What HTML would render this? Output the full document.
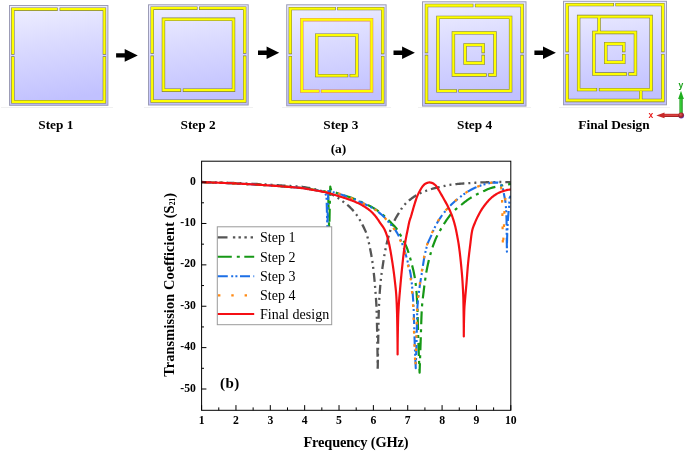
<!DOCTYPE html>
<html lang="en">
<head>
<meta charset="utf-8">
<title>Design steps and transmission coefficient</title>
<style>
html,body{margin:0;padding:0;background:#fff;}
body{width:685px;height:452px;overflow:hidden;font-family:"Liberation Serif",serif;}
svg{display:block;}
</style>
</head>
<body>
<svg width="685" height="452" viewBox="0 0 685 452">
<defs>
<linearGradient id="sq" x1="0" y1="0" x2="0.15" y2="1"><stop offset="0" stop-color="#f0f0ff"/><stop offset="0.42" stop-color="#dbdbff"/><stop offset="1" stop-color="#c1c1ff"/></linearGradient>
<radialGradient id="ball" cx="0.4" cy="0.35" r="0.7"><stop offset="0" stop-color="#e05a5a"/><stop offset="0.6" stop-color="#a02020"/><stop offset="1" stop-color="#5a3cc8"/></radialGradient>
<linearGradient id="gx" x1="0" y1="0" x2="1" y2="0"><stop offset="0" stop-color="#1e9a1e"/><stop offset="0.45" stop-color="#3ddc3d"/><stop offset="1" stop-color="#128012"/></linearGradient>
<linearGradient id="rx" x1="0" y1="0" x2="0" y2="1"><stop offset="0" stop-color="#b02020"/><stop offset="0.45" stop-color="#e84a4a"/><stop offset="1" stop-color="#8a1515"/></linearGradient>
<clipPath id="plot"><rect x="201.6" y="161.2" width="309.2" height="249.1"/></clipPath>
</defs>
<rect width="685" height="452" fill="#ffffff"/>
<rect x="1" y="107" width="112" height="1" fill="#f0f0f0"/>
<rect x="144" y="107" width="109" height="1" fill="#f0f0f0"/>
<rect x="282" y="107" width="109" height="1" fill="#f0f0f0"/>
<rect x="418" y="107" width="113" height="1" fill="#f0f0f0"/>
<rect x="559" y="107" width="111" height="1" fill="#f0f0f0"/>
<rect x="9.5" y="5.5" width="98.4" height="99.8" fill="url(#sq)" stroke="#9c9cb6" stroke-width="1"/>
<path d="M12.85 54.7 L12.85 9.2 L57.7 9.2 M59.6 9.2 L104.4 9.2 L104.4 54.7 M104.4 56.3 L104.4 101.75 L12.85 101.75 L12.85 56.3" fill="none" stroke="#6c6c26" stroke-width="3.4" stroke-linejoin="miter" stroke-linecap="butt" opacity="0.85"/>
<path d="M12.85 54.1 L12.85 9.2 L57.1 9.2 M60.2 9.2 L104.4 9.2 L104.4 54.1 M104.4 56.9 L104.4 101.75 L12.85 101.75 L12.85 56.9" fill="none" stroke="#ffff00" stroke-width="2.3" stroke-linejoin="miter" stroke-linecap="butt"/>
<rect x="148.5" y="4.8" width="99.7" height="100.2" fill="url(#sq)" stroke="#9c9cb6" stroke-width="1"/>
<path d="M152.2 53.7 L152.2 8.2 L197.55 8.2 M199 8.2 L244.7 8.2 L244.7 53.7 M244.7 55.6 L244.7 101.15 L152.2 101.15 L152.2 55.6 M181.1 90.2 L163.45 90.2 L163.45 19.3 L233.5 19.3 L233.5 90.2 L182.8 90.2" fill="none" stroke="#6c6c26" stroke-width="3.4" stroke-linejoin="miter" stroke-linecap="butt" opacity="0.85"/>
<path d="M152.2 53.1 L152.2 8.2 L196.95 8.2 M199.6 8.2 L244.7 8.2 L244.7 53.1 M244.7 56.2 L244.7 101.15 L152.2 101.15 L152.2 56.2 M180.5 90.2 L163.45 90.2 L163.45 19.3 L233.5 19.3 L233.5 90.2 L183.4 90.2" fill="none" stroke="#ffff00" stroke-width="2.3" stroke-linejoin="miter" stroke-linecap="butt"/>
<rect x="286.7" y="4.8" width="99.4" height="101" fill="url(#sq)" stroke="#9c9cb6" stroke-width="1"/>
<path d="M290.3 54.2 L290.3 8.6 L335.8 8.6 M337.2 8.6 L382.7 8.6 L382.7 54.2 M382.7 56 L382.7 102 L290.3 102 L290.3 56" fill="none" stroke="#6c6c26" stroke-width="3.4" stroke-linejoin="miter" stroke-linecap="butt" opacity="0.85"/>
<path d="M290.3 53.6 L290.3 8.6 L335.2 8.6 M337.8 8.6 L382.7 8.6 L382.7 53.6 M382.7 56.6 L382.7 102 L290.3 102 L290.3 56.6" fill="none" stroke="#ffff00" stroke-width="2.3" stroke-linejoin="miter" stroke-linecap="butt"/>
<path d="M319.5 91.1 L301.8 91.1 L301.8 19.7 L371.55 19.7 L371.55 91.1 L320.9 91.1" fill="none" stroke="#e27c40" stroke-width="3.4" stroke-linejoin="miter" stroke-linecap="butt" opacity="0.85"/>
<path d="M318.9 91.1 L301.8 91.1 L301.8 19.7 L371.55 19.7 L371.55 91.1 L321.5 91.1" fill="none" stroke="#ffff00" stroke-width="2.3" stroke-linejoin="miter" stroke-linecap="butt"/>
<path d="M348.2 75.65 L316.7 75.65 L316.7 35.1 L356.85 35.1 L356.85 75.65 L349.6 75.65" fill="none" stroke="#6c6c26" stroke-width="3.4" stroke-linejoin="miter" stroke-linecap="butt" opacity="0.85"/>
<path d="M347.6 75.65 L316.7 75.65 L316.7 35.1 L356.85 35.1 L356.85 75.65 L350.2 75.65" fill="none" stroke="#ffff00" stroke-width="2.3" stroke-linejoin="miter" stroke-linecap="butt"/>
<rect x="422.5" y="1.8" width="103.5" height="104.3" fill="url(#sq)" stroke="#9c9cb6" stroke-width="1"/>
<path d="M426.5 53.2 L426.5 5.5 L473.4 5.5 M474.9 5.5 L522.1 5.5 L522.1 53.2 M522.1 54.8 L522.1 102.2 L426.5 102.2 L426.5 54.8 M457 90.9 L437.95 90.9 L437.95 17.4 L510.6 17.4 L510.6 90.9 L458.4 90.9 M486.7 74.95 L453.4 74.95 L453.4 32.9 L494.95 32.9 L494.95 74.95 L488.2 74.95 M483.2 54.8 L483.2 63 L465.1 63 L465.1 44.9 L483.2 44.9 L483.2 53.2" fill="none" stroke="#6c6c26" stroke-width="3.4" stroke-linejoin="miter" stroke-linecap="butt" opacity="0.85"/>
<path d="M426.5 52.6 L426.5 5.5 L472.8 5.5 M475.5 5.5 L522.1 5.5 L522.1 52.6 M522.1 55.4 L522.1 102.2 L426.5 102.2 L426.5 55.4 M456.4 90.9 L437.95 90.9 L437.95 17.4 L510.6 17.4 L510.6 90.9 L459 90.9 M486.1 74.95 L453.4 74.95 L453.4 32.9 L494.95 32.9 L494.95 74.95 L488.8 74.95 M483.2 55.4 L483.2 63 L465.1 63 L465.1 44.9 L483.2 44.9 L483.2 52.6" fill="none" stroke="#ffff00" stroke-width="2.3" stroke-linejoin="miter" stroke-linecap="butt"/>
<rect x="563.5" y="1.3" width="103" height="103.5" fill="url(#sq)" stroke="#9c9cb6" stroke-width="1"/>
<path d="M567.15 52.2 L567.15 4.65 L614 4.65 M615.4 4.65 L662.85 4.65 L662.85 52.2 M662.85 53.9 L662.85 100.45 L567.15 100.45 L567.15 53.9 M597.1 89.65 L578.65 89.65 L578.65 16.55 L651.15 16.55 L651.15 89.65 L598.9 89.65 M626.9 74.05 L593.9 74.05 L593.9 32.45 L635.45 32.45 L635.45 74.05 L628.4 74.05 M623.75 53.9 L623.75 62.25 L605.75 62.25 L605.75 43.75 L623.75 43.75 L623.75 52.2 M599.05 17.8 L599.05 31.2 M640.75 90.9 L640.75 99.2" fill="none" stroke="#6c6c26" stroke-width="3.4" stroke-linejoin="miter" stroke-linecap="butt" opacity="0.85"/>
<path d="M567.15 51.6 L567.15 4.65 L613.4 4.65 M616 4.65 L662.85 4.65 L662.85 51.6 M662.85 54.5 L662.85 100.45 L567.15 100.45 L567.15 54.5 M596.5 89.65 L578.65 89.65 L578.65 16.55 L651.15 16.55 L651.15 89.65 L599.5 89.65 M626.3 74.05 L593.9 74.05 L593.9 32.45 L635.45 32.45 L635.45 74.05 L629 74.05 M623.75 54.5 L623.75 62.25 L605.75 62.25 L605.75 43.75 L623.75 43.75 L623.75 51.6 M599.05 17.8 L599.05 31.2 M640.75 90.9 L640.75 99.2" fill="none" stroke="#ffff00" stroke-width="2.3" stroke-linejoin="miter" stroke-linecap="butt"/>
<path d="M116.1 53.2 H124.7 V49.1 L137.8 55.4 L124.7 61.7 V57.6 H116.1 Z" fill="#000"/>
<path d="M258 50.6 H266.6 V46.5 L279.2 52.8 L266.6 59.1 V55 H258 Z" fill="#000"/>
<path d="M393.5 50.6 H402.1 V46.5 L414.9 52.8 L402.1 59.1 V55 H393.5 Z" fill="#000"/>
<path d="M534.4 50.6 H543 V46.5 L555.9 52.8 L543 59.1 V55 H534.4 Z" fill="#000"/>
<text x="55.8" y="128.6" font-family='"Liberation Serif", serif' font-size="13.3" font-weight="bold" text-anchor="middle" fill="#000" >Step 1</text>
<text x="198.1" y="128.6" font-family='"Liberation Serif", serif' font-size="13.3" font-weight="bold" text-anchor="middle" fill="#000" >Step 2</text>
<text x="340.8" y="128.6" font-family='"Liberation Serif", serif' font-size="13.3" font-weight="bold" text-anchor="middle" fill="#000" >Step 3</text>
<text x="474.6" y="128.6" font-family='"Liberation Serif", serif' font-size="13.3" font-weight="bold" text-anchor="middle" fill="#000" >Step 4</text>
<text x="614" y="128.6" font-family='"Liberation Serif", serif' font-size="13.3" font-weight="bold" text-anchor="middle" fill="#000" >Final Design</text>
<text x="338.5" y="152.8" font-family='"Liberation Serif", serif' font-size="13.5" font-weight="bold" text-anchor="middle" fill="#000" >(a)</text>
<rect x="679.4" y="98.5" width="3.3" height="17" fill="url(#gx)"/>
<path d="M678.1 99 L681 90.8 L683.9 99 Z" fill="#1fae1f"/>
<rect x="664" y="113.8" width="17" height="3.2" fill="url(#rx)"/>
<path d="M664.5 112.5 L656.3 115.4 L664.5 118.3 Z" fill="#c82828"/>
<circle cx="681.2" cy="115.5" r="2.9" fill="url(#ball)"/>
<text x="680.8" y="87.8" font-family='"Liberation Sans", sans-serif' font-size="8.6" font-weight="bold" text-anchor="middle" fill="#18a018" >y</text>
<text x="650.8" y="117.7" font-family='"Liberation Sans", sans-serif' font-size="8.5" font-weight="bold" text-anchor="middle" fill="#e81818" >x</text>
<g clip-path="url(#plot)" fill="none" stroke-linejoin="round">
<path d="M201.6 182 L202.71 182.02 L203.82 182.05 L204.93 182.07 L206.04 182.1 L207.15 182.13 L208.26 182.15 L209.37 182.18 L210.48 182.21 L211.59 182.24 L212.7 182.27 L213.81 182.3 L214.92 182.34 L216.02 182.37 L217.13 182.4 L218.24 182.44 L219.35 182.47 L220.46 182.51 L221.57 182.55 L222.68 182.58 L223.79 182.62 L224.9 182.66 L226.01 182.7 L227.12 182.74 L228.23 182.78 L229.33 182.82 L230.44 182.86 L231.55 182.9 L232.66 182.95 L233.77 182.99 L234.88 183.03 L235.99 183.08 L237.1 183.12 L238.21 183.17 L239.31 183.21 L240.42 183.26 L241.53 183.3 L242.64 183.35 L243.75 183.4 L244.86 183.44 L245.97 183.49 L247.08 183.54 L248.18 183.59 L249.29 183.64 L250.4 183.68 L251.51 183.73 L252.62 183.78 L253.73 183.83 L254.83 183.88 L255.94 183.94 L257.05 183.99 L258.16 184.05 L259.27 184.11 L260.37 184.17 L261.48 184.23 L262.59 184.29 L263.7 184.36 L264.81 184.42 L265.91 184.49 L267.02 184.55 L268.13 184.62 L269.24 184.69 L270.35 184.76 L271.45 184.83 L272.56 184.9 L273.67 184.97 L274.78 185.04 L275.88 185.11 L276.99 185.18 L278.1 185.25 L279.21 185.32 L280.31 185.39 L281.42 185.46 L282.53 185.53 L283.64 185.6 L284.74 185.67 L285.85 185.74 L286.96 185.81 L288.07 185.87 L289.18 185.94 L290.28 186 L291.39 186.06 L292.5 186.12 L293.61 186.17 L294.72 186.23 L295.83 186.3 L296.94 186.37 L298.05 186.44 L299.15 186.53 L300.25 186.62 L301.35 186.74 L302.45 186.87 L303.55 187.02 L304.65 187.19 L305.74 187.38 L306.84 187.57 L307.93 187.78 L309.02 188 L310.11 188.23 L311.2 188.46 L312.29 188.7 L313.37 188.94 L314.45 189.18 L315.53 189.42 L316.61 189.67 L317.69 189.93 L318.77 190.2 L319.85 190.48 L320.92 190.77 L322 191.08 L323.07 191.39 L324.13 191.71 L325.19 192.05 L326.24 192.39 L327.29 192.75 L328.33 193.12 L329.36 193.51 L330.4 193.92 L331.43 194.36 L332.44 194.81 L333.45 195.29 L334.44 195.79 L335.41 196.31 L336.37 196.85 L337.3 197.44 L338.22 198.06 L339.14 198.7 L340.04 199.36 L340.93 200.03 L341.82 200.69 L342.71 201.36 L343.61 202.02 L344.5 202.69 L345.39 203.36 L346.27 204.05 L347.14 204.74 L347.99 205.45 L348.82 206.18 L349.63 206.93 L350.42 207.69 L351.2 208.48 L351.97 209.29 L352.73 210.11 L353.47 210.95 L354.2 211.8 L354.9 212.66 L355.59 213.53 L356.25 214.42 L356.89 215.31 L357.51 216.22 L358.12 217.14 L358.71 218.08 L359.28 219.03 L359.85 219.99 L360.4 220.97 L360.94 221.94 L361.47 222.93 L361.98 223.91 L362.49 224.9 L363 225.89 L363.5 226.88 L364 227.87 L364.49 228.88 L364.96 229.89 L365.41 230.91 L365.83 231.93 L366.22 232.97 L366.56 234.01 L366.89 235.06 L367.2 236.12 L367.5 237.18 L367.79 238.25 L368.06 239.33 L368.33 240.41 L368.58 241.5 L368.83 242.59 L369.06 243.68 L369.3 244.77 L369.52 245.86 L369.75 246.95 L369.97 248.03 L370.18 249.12 L370.4 250.21 L370.61 251.3 L370.82 252.39 L371.02 253.48 L371.22 254.57 L371.41 255.67 L371.6 256.76 L371.79 257.86 L371.97 258.95 L372.14 260.05 L372.31 261.15 L372.47 262.25 L372.63 263.35 L372.78 264.44 L372.92 265.54 L373.06 266.64 L373.19 267.74 L373.32 268.84 L373.45 269.95 L373.57 271.05 L373.7 272.15 L373.81 273.25 L373.93 274.36 L374.04 275.46 L374.15 276.57 L374.26 277.67 L374.37 278.78 L374.47 279.88 L374.57 280.99 L374.67 282.1 L374.77 283.2 L374.86 284.31 L374.96 285.42 L375.05 286.52 L375.14 287.63 L375.23 288.73 L375.31 289.84 L375.4 290.95 L375.49 292.05 L375.58 293.16 L375.66 294.27 L375.75 295.37 L375.83 296.48 L375.91 297.59 L375.99 298.69 L376.07 299.8 L376.14 300.91 L376.21 302.02 L376.27 303.12 L376.33 304.23 L376.39 305.34 L376.44 306.45 L376.49 307.56 L376.53 308.67 L376.57 309.77 L376.61 310.88 L376.65 311.99 L376.68 313.1 L376.72 314.21 L376.75 315.32 L376.78 316.43 L376.82 317.54 L376.85 318.65 L376.88 319.76 L376.91 320.86 L376.93 321.97 L376.96 323.08 L376.99 324.19 L377.01 325.3 L377.04 326.41 L377.06 327.52 L377.09 328.63 L377.11 329.74 L377.13 330.85 L377.15 331.96 L377.18 333.07 L377.2 334.18 L377.22 335.29 L377.24 336.4 L377.26 337.51 L377.28 338.62 L377.3 339.73 L377.31 340.84 L377.33 341.95 L377.35 343.06 L377.37 344.17 L377.39 345.28 L377.41 346.39 L377.42 347.5 L377.44 348.61 L377.46 349.72 L377.47 350.83 L377.49 351.94 L377.51 353.04 L377.52 354.15 L377.54 355.26 L377.55 356.37 L377.57 357.48 L377.58 358.59 L377.59 359.7 L377.61 360.81 L377.62 361.92 L377.63 363.03 L377.64 364.14 L377.65 365.25 L377.66 366.36 L377.67 367.47 L377.68 368.58 L377.69 369.69 L377.7 370.8 L377.72 369.69 L377.73 368.59 L377.75 367.48 L377.76 366.37 L377.78 365.26 L377.79 364.16 L377.81 363.05 L377.83 361.94 L377.84 360.84 L377.86 359.73 L377.88 358.62 L377.9 357.51 L377.91 356.41 L377.93 355.3 L377.95 354.19 L377.97 353.09 L377.99 351.98 L378.01 350.87 L378.02 349.77 L378.04 348.66 L378.06 347.55 L378.08 346.44 L378.1 345.34 L378.12 344.23 L378.14 343.12 L378.16 342.02 L378.18 340.91 L378.2 339.8 L378.22 338.7 L378.24 337.59 L378.26 336.48 L378.28 335.37 L378.3 334.27 L378.32 333.16 L378.34 332.05 L378.36 330.95 L378.38 329.84 L378.4 328.73 L378.42 327.62 L378.44 326.52 L378.46 325.41 L378.48 324.3 L378.51 323.19 L378.53 322.09 L378.55 320.98 L378.58 319.87 L378.6 318.77 L378.63 317.66 L378.65 316.55 L378.68 315.45 L378.71 314.34 L378.74 313.23 L378.77 312.13 L378.8 311.02 L378.84 309.91 L378.87 308.81 L378.91 307.7 L378.95 306.6 L378.99 305.49 L379.04 304.38 L379.09 303.28 L379.14 302.17 L379.2 301.06 L379.26 299.96 L379.32 298.85 L379.38 297.75 L379.45 296.64 L379.52 295.53 L379.6 294.43 L379.68 293.32 L379.75 292.22 L379.84 291.11 L379.92 290.01 L380.01 288.91 L380.09 287.8 L380.18 286.7 L380.28 285.6 L380.37 284.49 L380.47 283.39 L380.56 282.29 L380.67 281.19 L380.79 280.09 L380.91 278.99 L381.04 277.89 L381.18 276.79 L381.32 275.69 L381.46 274.6 L381.62 273.5 L381.77 272.4 L381.93 271.3 L382.09 270.21 L382.25 269.11 L382.41 268.01 L382.57 266.92 L382.74 265.82 L382.9 264.73 L383.06 263.63 L383.23 262.54 L383.39 261.44 L383.56 260.35 L383.74 259.25 L383.91 258.16 L384.09 257.07 L384.27 255.97 L384.46 254.88 L384.65 253.79 L384.84 252.7 L385.04 251.61 L385.24 250.52 L385.45 249.44 L385.67 248.35 L385.89 247.27 L386.12 246.19 L386.36 245.11 L386.6 244.03 L386.86 242.95 L387.12 241.87 L387.39 240.79 L387.66 239.72 L387.94 238.65 L388.23 237.58 L388.53 236.51 L388.83 235.44 L389.14 234.38 L389.45 233.32 L389.78 232.27 L390.11 231.21 L390.46 230.16 L390.83 229.11 L391.21 228.07 L391.6 227.03 L392 226 L392.42 224.98 L392.86 223.96 L393.32 222.95 L393.79 221.95 L394.28 220.95 L394.78 219.96 L395.29 218.98 L395.81 218.01 L396.36 217.05 L396.94 216.11 L397.52 215.17 L398.12 214.24 L398.73 213.3 L399.33 212.37 L399.92 211.43 L400.49 210.48 L401.04 209.51 L401.6 208.55 L402.19 207.62 L402.83 206.73 L403.52 205.88 L404.24 205.04 L405 204.23 L405.79 203.43 L406.59 202.66 L407.42 201.9 L408.25 201.17 L409.09 200.46 L409.94 199.76 L410.8 199.07 L411.69 198.39 L412.59 197.72 L413.5 197.07 L414.43 196.45 L415.36 195.85 L416.31 195.27 L417.26 194.73 L418.23 194.23 L419.2 193.74 L420.2 193.26 L421.2 192.8 L422.22 192.35 L423.25 191.91 L424.28 191.5 L425.33 191.09 L426.37 190.71 L427.42 190.34 L428.48 189.98 L429.53 189.65 L430.58 189.33 L431.64 189.02 L432.71 188.73 L433.78 188.46 L434.86 188.19 L435.94 187.93 L437.02 187.69 L438.1 187.44 L439.19 187.2 L440.27 186.96 L441.35 186.72 L442.43 186.48 L443.51 186.23 L444.59 185.99 L445.68 185.75 L446.76 185.52 L447.85 185.29 L448.94 185.09 L450.03 184.89 L451.12 184.72 L452.21 184.56 L453.3 184.43 L454.4 184.3 L455.5 184.18 L456.6 184.07 L457.7 183.97 L458.81 183.87 L459.91 183.77 L461.02 183.68 L462.12 183.59 L463.23 183.51 L464.33 183.43 L465.44 183.36 L466.54 183.28 L467.65 183.21 L468.75 183.14 L469.86 183.07 L470.96 183 L472.07 182.93 L473.17 182.87 L474.28 182.8 L475.39 182.74 L476.49 182.68 L477.6 182.62 L478.7 182.57 L479.81 182.52 L480.92 182.47 L482.02 182.42 L483.13 182.38 L484.24 182.34 L485.34 182.3 L486.45 182.27 L487.55 182.24 L488.66 182.21 L489.77 182.18 L490.88 182.15 L491.98 182.12 L493.09 182.09 L494.2 182.07 L495.3 182.04 L496.41 182.03 L497.52 182.01 L498.63 182 L499.73 182 L500.84 182 L501.95 182.01 L503.05 182.03 L504.16 182.05 L505.27 182.08 L506.37 182.12 L507.48 182.16 L508.59 182.2 L509.69 182.25 L510.8 182.3" stroke="#555555" stroke-width="2.3" stroke-dasharray="9 4 2 4 2 4"/>
<path d="M201.6 182.2 L202.71 182.23 L203.81 182.26 L204.92 182.29 L206.02 182.32 L207.13 182.35 L208.23 182.39 L209.34 182.42 L210.44 182.46 L211.55 182.49 L212.65 182.53 L213.76 182.57 L214.86 182.61 L215.97 182.65 L217.07 182.69 L218.18 182.73 L219.29 182.77 L220.39 182.81 L221.5 182.85 L222.6 182.9 L223.7 182.94 L224.81 182.99 L225.91 183.03 L227.02 183.08 L228.12 183.12 L229.23 183.17 L230.33 183.21 L231.44 183.26 L232.54 183.31 L233.65 183.36 L234.75 183.41 L235.86 183.47 L236.96 183.52 L238.07 183.58 L239.17 183.63 L240.27 183.69 L241.38 183.75 L242.48 183.81 L243.59 183.87 L244.69 183.93 L245.8 183.99 L246.9 184.05 L248 184.11 L249.11 184.18 L250.21 184.24 L251.32 184.3 L252.42 184.37 L253.52 184.43 L254.63 184.5 L255.73 184.56 L256.84 184.63 L257.94 184.7 L259.04 184.77 L260.15 184.84 L261.25 184.91 L262.35 184.98 L263.46 185.05 L264.56 185.13 L265.66 185.2 L266.77 185.28 L267.87 185.35 L268.97 185.43 L270.08 185.51 L271.18 185.58 L272.28 185.66 L273.39 185.74 L274.49 185.82 L275.59 185.9 L276.69 185.98 L277.8 186.06 L278.9 186.15 L280 186.23 L281.11 186.31 L282.21 186.4 L283.31 186.49 L284.41 186.57 L285.52 186.66 L286.62 186.75 L287.72 186.84 L288.82 186.93 L289.92 187.02 L291.03 187.1 L292.13 187.19 L293.23 187.28 L294.33 187.37 L295.44 187.47 L296.54 187.57 L297.64 187.67 L298.74 187.77 L299.84 187.88 L300.94 188 L302.04 188.12 L303.14 188.25 L304.23 188.38 L305.33 188.52 L306.43 188.66 L307.53 188.81 L308.62 188.96 L309.72 189.11 L310.81 189.27 L311.91 189.43 L313 189.59 L314.09 189.76 L315.19 189.93 L316.33 190.09 L317.54 190.23 L318.78 190.38 L320.02 190.52 L321.24 190.68 L322.41 190.86 L323.5 191.07 L324.49 191.31 L325.34 191.59 L326.04 191.92 L326.62 192.49 L327.16 193.37 L327.62 194.48 L328.01 195.71 L328.3 197 L328.33 198.09 L328.36 199.17 L328.39 200.26 L328.41 201.34 L328.44 202.43 L328.47 203.51 L328.5 204.6 L328.53 205.69 L328.56 206.77 L328.59 207.86 L328.61 208.94 L328.64 210.03 L328.67 211.11 L328.7 212.2 L328.73 213.29 L328.76 214.37 L328.79 215.46 L328.81 216.54 L328.84 217.63 L328.87 218.71 L328.9 219.8 L328.93 220.89 L328.96 221.97 L328.99 223.06 L329.01 224.14 L329.04 225.23 L329.07 226.31 L329.1 227.4 L329.13 228.49 L329.16 229.57 L329.19 230.66 L329.21 231.74 L329.24 232.83 L329.27 233.91 L329.3 235 L329.31 233.9 L329.32 232.8 L329.33 231.7 L329.34 230.6 L329.35 229.5 L329.37 228.4 L329.38 227.3 L329.4 226.2 L329.41 225.1 L329.43 224 L329.44 222.9 L329.46 221.8 L329.48 220.7 L329.5 219.6 L329.52 218.5 L329.54 217.4 L329.56 216.3 L329.58 215.2 L329.6 214.1 L329.62 213 L329.64 211.9 L329.67 210.8 L329.69 209.7 L329.71 208.6 L329.73 207.5 L329.76 206.4 L329.78 205.3 L329.81 204.2 L329.83 203.1 L329.85 202 L329.88 200.9 L329.9 199.8 L329.93 198.7 L329.96 197.6 L329.99 196.5 L330.02 195.4 L330.05 194.3 L330.09 193.2 L330.12 192.1 L330.15 191 L330.19 189.9 L330.23 188.8 L330.26 187.7 L330.3 186.6 L330.46 187.89 L330.8 189.04 L331.26 190.03 L331.79 190.79 L332.52 191.35 L333.53 191.81 L334.69 192.21 L335.83 192.6 L336.86 192.99 L337.9 193.38 L338.95 193.75 L340 194.1 L341.05 194.45 L342.11 194.79 L343.17 195.13 L344.23 195.46 L345.29 195.79 L346.35 196.12 L347.41 196.46 L348.47 196.8 L349.52 197.15 L350.56 197.51 L351.61 197.89 L352.64 198.28 L353.67 198.68 L354.69 199.1 L355.72 199.53 L356.73 199.98 L357.75 200.43 L358.76 200.89 L359.77 201.35 L360.77 201.82 L361.78 202.29 L362.78 202.77 L363.78 203.24 L364.79 203.71 L365.8 204.18 L366.81 204.65 L367.82 205.13 L368.83 205.6 L369.83 206.09 L370.83 206.59 L371.81 207.1 L372.78 207.62 L373.74 208.17 L374.68 208.73 L375.61 209.31 L376.52 209.93 L377.43 210.56 L378.32 211.22 L379.21 211.9 L380.08 212.59 L380.95 213.29 L381.81 214.01 L382.66 214.73 L383.5 215.45 L384.34 216.18 L385.17 216.91 L385.98 217.66 L386.79 218.42 L387.58 219.2 L388.37 219.98 L389.15 220.77 L389.93 221.57 L390.7 222.37 L391.47 223.17 L392.24 223.97 L393.02 224.76 L393.8 225.56 L394.57 226.37 L395.33 227.19 L396.05 228.03 L396.74 228.88 L397.39 229.77 L397.99 230.68 L398.57 231.63 L399.13 232.59 L399.66 233.57 L400.2 234.55 L400.72 235.53 L401.26 236.5 L401.79 237.48 L402.33 238.45 L402.86 239.43 L403.38 240.42 L403.9 241.4 L404.41 242.39 L404.9 243.39 L405.38 244.39 L405.84 245.4 L406.28 246.41 L406.69 247.43 L407.09 248.45 L407.47 249.49 L407.84 250.53 L408.19 251.58 L408.54 252.63 L408.88 253.69 L409.2 254.76 L409.52 255.82 L409.83 256.89 L410.14 257.97 L410.43 259.04 L410.72 260.11 L411.01 261.18 L411.29 262.25 L411.57 263.32 L411.85 264.4 L412.13 265.47 L412.4 266.55 L412.67 267.63 L412.94 268.71 L413.2 269.79 L413.45 270.87 L413.69 271.96 L413.92 273.04 L414.14 274.13 L414.35 275.22 L414.55 276.31 L414.74 277.4 L414.91 278.49 L415.07 279.58 L415.23 280.68 L415.39 281.78 L415.54 282.88 L415.68 283.98 L415.82 285.08 L415.95 286.18 L416.07 287.29 L416.19 288.39 L416.29 289.5 L416.39 290.6 L416.48 291.71 L416.57 292.81 L416.65 293.92 L416.73 295.02 L416.8 296.13 L416.87 297.23 L416.94 298.34 L417 299.45 L417.06 300.56 L417.12 301.67 L417.18 302.77 L417.23 303.88 L417.28 304.99 L417.33 306.1 L417.37 307.21 L417.42 308.31 L417.46 309.42 L417.5 310.53 L417.53 311.64 L417.57 312.75 L417.61 313.86 L417.64 314.96 L417.67 316.07 L417.7 317.18 L417.73 318.29 L417.76 319.4 L417.79 320.51 L417.82 321.62 L417.84 322.72 L417.87 323.83 L417.9 324.94 L417.92 326.05 L417.95 327.16 L417.98 328.27 L418 329.38 L418.03 330.49 L418.06 331.6 L418.09 332.7 L418.12 333.81 L418.15 334.92 L418.18 336.03 L418.21 337.14 L418.24 338.25 L418.28 339.36 L418.32 340.46 L418.35 341.57 L418.39 342.68 L418.43 343.79 L418.47 344.9 L418.51 346.01 L418.55 347.11 L418.59 348.22 L418.63 349.33 L418.67 350.44 L418.71 351.55 L418.75 352.65 L418.8 353.76 L418.84 354.87 L418.88 355.98 L418.93 357.09 L418.97 358.2 L419.02 359.3 L419.07 360.41 L419.11 361.52 L419.16 362.63 L419.21 363.74 L419.25 364.84 L419.3 365.95 L419.35 367.06 L419.4 368.17 L419.45 369.28 L419.5 370.38 L419.55 371.49 L419.6 372.6 L419.64 371.49 L419.67 370.38 L419.71 369.27 L419.74 368.17 L419.78 367.06 L419.81 365.95 L419.85 364.84 L419.89 363.73 L419.92 362.62 L419.96 361.51 L420 360.4 L420.03 359.3 L420.07 358.19 L420.11 357.08 L420.15 355.97 L420.18 354.86 L420.22 353.75 L420.26 352.64 L420.3 351.54 L420.34 350.43 L420.37 349.32 L420.41 348.21 L420.45 347.1 L420.49 345.99 L420.53 344.88 L420.57 343.77 L420.61 342.67 L420.64 341.56 L420.68 340.45 L420.72 339.34 L420.76 338.23 L420.8 337.12 L420.83 336.01 L420.87 334.9 L420.9 333.79 L420.94 332.69 L420.97 331.58 L421.01 330.47 L421.04 329.36 L421.07 328.25 L421.11 327.14 L421.14 326.03 L421.18 324.92 L421.21 323.81 L421.25 322.7 L421.29 321.59 L421.33 320.48 L421.37 319.37 L421.41 318.27 L421.45 317.16 L421.5 316.05 L421.54 314.94 L421.59 313.83 L421.64 312.73 L421.7 311.62 L421.76 310.51 L421.81 309.41 L421.88 308.3 L421.94 307.2 L422.02 306.09 L422.11 304.99 L422.21 303.88 L422.32 302.78 L422.43 301.67 L422.55 300.57 L422.68 299.47 L422.81 298.36 L422.94 297.26 L423.08 296.16 L423.21 295.06 L423.35 293.96 L423.48 292.86 L423.62 291.75 L423.75 290.65 L423.88 289.55 L424.02 288.45 L424.16 287.35 L424.29 286.25 L424.44 285.15 L424.58 284.04 L424.73 282.94 L424.87 281.84 L425.03 280.74 L425.18 279.65 L425.34 278.55 L425.5 277.45 L425.67 276.35 L425.84 275.26 L426.02 274.17 L426.2 273.07 L426.39 271.98 L426.58 270.89 L426.79 269.8 L427 268.71 L427.21 267.62 L427.44 266.53 L427.67 265.45 L427.9 264.36 L428.15 263.28 L428.4 262.19 L428.65 261.11 L428.91 260.03 L429.18 258.96 L429.45 257.88 L429.72 256.81 L430 255.74 L430.29 254.67 L430.59 253.6 L430.9 252.53 L431.21 251.47 L431.54 250.41 L431.87 249.35 L432.21 248.29 L432.56 247.23 L432.92 246.18 L433.28 245.14 L433.66 244.09 L434.04 243.06 L434.43 242.02 L434.84 240.99 L435.27 239.96 L435.7 238.94 L436.15 237.92 L436.62 236.91 L437.09 235.91 L437.59 234.92 L438.1 233.94 L438.63 232.97 L439.18 232 L439.73 231.04 L440.3 230.08 L440.87 229.13 L441.45 228.18 L442.02 227.23 L442.59 226.28 L443.17 225.33 L443.75 224.39 L444.34 223.44 L444.94 222.51 L445.54 221.58 L446.16 220.66 L446.79 219.74 L447.43 218.84 L448.07 217.94 L448.73 217.03 L449.39 216.13 L450.07 215.24 L450.76 214.37 L451.47 213.51 L452.19 212.68 L452.94 211.87 L453.71 211.1 L454.52 210.35 L455.36 209.63 L456.22 208.93 L457.09 208.24 L457.98 207.55 L458.85 206.86 L459.72 206.16 L460.58 205.46 L461.43 204.75 L462.28 204.03 L463.14 203.32 L464 202.62 L464.87 201.93 L465.75 201.26 L466.64 200.6 L467.54 199.96 L468.45 199.33 L469.37 198.71 L470.3 198.1 L471.24 197.5 L472.19 196.92 L473.14 196.35 L474.1 195.8 L475.07 195.27 L476.05 194.75 L477.03 194.24 L478.02 193.74 L479.02 193.26 L480.03 192.78 L481.03 192.31 L482.04 191.84 L483.05 191.38 L484.06 190.91 L485.07 190.44 L486.08 189.97 L487.09 189.51 L488.12 189.08 L489.15 188.67 L490.19 188.3 L491.24 187.97 L492.3 187.67 L493.37 187.39 L494.45 187.12 L495.54 186.87 L496.62 186.63 L497.71 186.39 L498.79 186.15 L499.87 185.92 L500.96 185.69 L502.05 185.48 L503.14 185.27 L504.23 185.06 L505.32 184.87 L506.41 184.68 L507.51 184.5 L508.6 184.32 L509.7 184.16 L510.8 184" stroke="#169816" stroke-width="2.2" stroke-dasharray="13 5 3 5"/>
<path d="M201.6 182.2 L202.71 182.23 L203.81 182.26 L204.92 182.29 L206.02 182.32 L207.13 182.35 L208.23 182.39 L209.34 182.42 L210.44 182.46 L211.55 182.49 L212.65 182.53 L213.76 182.57 L214.86 182.61 L215.96 182.65 L217.07 182.69 L218.17 182.73 L219.28 182.77 L220.38 182.81 L221.49 182.85 L222.59 182.9 L223.7 182.94 L224.8 182.98 L225.91 183.03 L227.01 183.08 L228.11 183.12 L229.22 183.17 L230.32 183.21 L231.43 183.26 L232.53 183.31 L233.64 183.36 L234.74 183.41 L235.84 183.47 L236.95 183.52 L238.05 183.58 L239.16 183.63 L240.26 183.69 L241.36 183.75 L242.47 183.81 L243.57 183.87 L244.68 183.93 L245.78 183.99 L246.88 184.05 L247.99 184.11 L249.09 184.17 L250.2 184.24 L251.3 184.3 L252.4 184.37 L253.51 184.43 L254.61 184.49 L255.71 184.56 L256.82 184.63 L257.92 184.7 L259.02 184.77 L260.13 184.84 L261.23 184.91 L262.33 184.98 L263.44 185.05 L264.54 185.13 L265.64 185.2 L266.74 185.28 L267.85 185.35 L268.95 185.43 L270.05 185.5 L271.16 185.58 L272.26 185.66 L273.36 185.74 L274.46 185.82 L275.57 185.9 L276.67 185.98 L277.77 186.06 L278.87 186.14 L279.98 186.23 L281.08 186.31 L282.18 186.4 L283.28 186.48 L284.38 186.57 L285.49 186.66 L286.59 186.75 L287.69 186.83 L288.79 186.92 L289.89 187.01 L291 187.1 L292.1 187.19 L293.2 187.28 L294.3 187.37 L295.4 187.46 L296.51 187.56 L297.61 187.66 L298.71 187.77 L299.8 187.88 L300.9 188 L302 188.13 L303.1 188.26 L304.2 188.4 L305.29 188.54 L306.39 188.69 L307.49 188.85 L308.58 189.01 L309.67 189.18 L310.77 189.36 L311.86 189.54 L312.95 189.73 L314.03 189.92 L315.12 190.12 L316.27 190.32 L317.5 190.51 L318.76 190.71 L320.01 190.92 L321.22 191.16 L322.32 191.43 L323.29 191.74 L324.07 192.1 L324.63 192.52 L325.12 193.17 L325.57 194.04 L325.96 195.11 L326.28 196.32 L326.5 197.63 L326.6 199 L326.63 200.09 L326.65 201.18 L326.68 202.27 L326.71 203.36 L326.74 204.45 L326.76 205.55 L326.79 206.64 L326.82 207.73 L326.85 208.82 L326.87 209.91 L326.9 211 L326.93 212.09 L326.95 213.18 L326.98 214.27 L327.01 215.36 L327.04 216.45 L327.06 217.55 L327.09 218.64 L327.12 219.73 L327.15 220.82 L327.17 221.91 L327.2 223 L327.23 224.09 L327.25 225.18 L327.28 226.27 L327.31 227.36 L327.34 228.45 L327.36 229.55 L327.39 230.64 L327.42 231.73 L327.45 232.82 L327.47 233.91 L327.5 235 L327.5 233.89 L327.5 232.79 L327.51 231.68 L327.51 230.58 L327.52 229.47 L327.52 228.37 L327.53 227.26 L327.54 226.16 L327.55 225.05 L327.56 223.95 L327.57 222.84 L327.59 221.74 L327.6 220.63 L327.62 219.53 L327.63 218.42 L327.65 217.32 L327.67 216.21 L327.69 215.11 L327.71 214 L327.73 212.9 L327.75 211.79 L327.77 210.69 L327.79 209.58 L327.81 208.48 L327.83 207.37 L327.86 206.27 L327.88 205.16 L327.91 204.06 L327.93 202.95 L327.96 201.85 L327.98 200.74 L328.01 199.64 L328.04 198.54 L328.08 197.43 L328.12 196.33 L328.17 195.22 L328.22 194.12 L328.27 193.02 L328.33 191.91 L328.39 190.81 L328.44 189.7 L328.5 188.6 L328.95 189.75 L329.53 190.73 L330.22 191.34 L331.1 191.75 L332.14 192.07 L333.29 192.33 L334.47 192.59 L335.62 192.86 L336.69 193.18 L337.75 193.51 L338.81 193.84 L339.86 194.18 L340.92 194.51 L341.98 194.85 L343.04 195.19 L344.09 195.53 L345.15 195.88 L346.2 196.24 L347.25 196.6 L348.3 196.96 L349.34 197.34 L350.38 197.72 L351.41 198.1 L352.45 198.5 L353.47 198.91 L354.5 199.33 L355.51 199.76 L356.53 200.21 L357.54 200.67 L358.55 201.13 L359.56 201.6 L360.56 202.08 L361.56 202.56 L362.56 203.04 L363.55 203.53 L364.55 204.01 L365.56 204.49 L366.56 204.98 L367.57 205.46 L368.57 205.95 L369.57 206.45 L370.56 206.96 L371.54 207.48 L372.51 208.01 L373.46 208.57 L374.39 209.14 L375.31 209.74 L376.21 210.36 L377.11 211.01 L377.99 211.69 L378.86 212.38 L379.72 213.1 L380.57 213.83 L381.4 214.57 L382.23 215.31 L383.04 216.07 L383.84 216.83 L384.62 217.6 L385.39 218.4 L386.15 219.21 L386.89 220.03 L387.63 220.87 L388.36 221.71 L389.09 222.55 L389.81 223.39 L390.55 224.22 L391.29 225.05 L392.03 225.89 L392.77 226.73 L393.49 227.58 L394.18 228.44 L394.84 229.32 L395.45 230.23 L396.03 231.15 L396.6 232.09 L397.16 233.05 L397.71 234.01 L398.24 234.99 L398.76 235.98 L399.26 236.98 L399.75 237.99 L400.22 239.01 L400.68 240.03 L401.13 241.05 L401.56 242.07 L401.97 243.1 L402.37 244.13 L402.76 245.15 L403.13 246.19 L403.49 247.23 L403.84 248.28 L404.19 249.33 L404.52 250.39 L404.84 251.45 L405.16 252.52 L405.47 253.59 L405.77 254.66 L406.07 255.73 L406.37 256.81 L406.65 257.88 L406.94 258.96 L407.22 260.03 L407.5 261.11 L407.77 262.18 L408.05 263.25 L408.33 264.33 L408.61 265.4 L408.89 266.48 L409.16 267.56 L409.43 268.64 L409.69 269.72 L409.93 270.8 L410.17 271.89 L410.39 272.97 L410.59 274.06 L410.77 275.15 L410.93 276.24 L411.08 277.33 L411.23 278.43 L411.36 279.53 L411.5 280.63 L411.62 281.73 L411.74 282.83 L411.85 283.94 L411.96 285.04 L412.07 286.15 L412.17 287.25 L412.27 288.36 L412.36 289.47 L412.45 290.57 L412.54 291.68 L412.63 292.78 L412.71 293.89 L412.8 294.99 L412.88 296.1 L412.96 297.21 L413.04 298.31 L413.12 299.42 L413.19 300.52 L413.26 301.63 L413.33 302.74 L413.4 303.84 L413.46 304.95 L413.51 306.06 L413.57 307.17 L413.62 308.27 L413.66 309.38 L413.71 310.49 L413.75 311.6 L413.79 312.7 L413.83 313.81 L413.87 314.92 L413.9 316.03 L413.94 317.13 L413.97 318.24 L414 319.35 L414.04 320.46 L414.07 321.57 L414.1 322.68 L414.13 323.78 L414.16 324.89 L414.19 326 L414.22 327.11 L414.25 328.22 L414.28 329.33 L414.31 330.43 L414.34 331.54 L414.37 332.65 L414.4 333.76 L414.43 334.87 L414.47 335.98 L414.5 337.08 L414.54 338.19 L414.58 339.3 L414.61 340.41 L414.65 341.52 L414.69 342.62 L414.74 343.73 L414.78 344.84 L414.82 345.95 L414.86 347.05 L414.9 348.16 L414.95 349.27 L414.99 350.38 L415.04 351.49 L415.08 352.59 L415.13 353.7 L415.17 354.81 L415.22 355.92 L415.26 357.02 L415.31 358.13 L415.36 359.24 L415.41 360.35 L415.45 361.45 L415.5 362.56 L415.55 363.67 L415.6 364.78 L415.65 365.88 L415.7 366.99 L415.75 368.1 L415.79 366.99 L415.82 365.88 L415.86 364.77 L415.89 363.66 L415.93 362.55 L415.96 361.44 L416 360.33 L416.03 359.22 L416.07 358.11 L416.1 357 L416.14 355.89 L416.17 354.77 L416.21 353.66 L416.24 352.55 L416.27 351.44 L416.31 350.33 L416.34 349.22 L416.37 348.11 L416.4 347 L416.43 345.89 L416.47 344.78 L416.5 343.67 L416.53 342.56 L416.56 341.45 L416.59 340.34 L416.62 339.23 L416.65 338.12 L416.68 337.01 L416.7 335.89 L416.73 334.78 L416.75 333.67 L416.77 332.56 L416.8 331.45 L416.82 330.34 L416.84 329.23 L416.86 328.11 L416.88 327 L416.9 325.89 L416.92 324.78 L416.94 323.67 L416.97 322.56 L416.99 321.45 L417.02 320.33 L417.04 319.22 L417.07 318.11 L417.1 317 L417.13 315.89 L417.16 314.78 L417.19 313.67 L417.23 312.56 L417.26 311.45 L417.3 310.35 L417.35 309.24 L417.39 308.13 L417.44 307.02 L417.51 305.91 L417.58 304.81 L417.67 303.7 L417.76 302.59 L417.87 301.49 L417.98 300.38 L418.1 299.27 L418.22 298.17 L418.35 297.06 L418.49 295.96 L418.62 294.86 L418.76 293.75 L418.9 292.65 L419.03 291.55 L419.17 290.44 L419.31 289.34 L419.45 288.24 L419.6 287.14 L419.76 286.04 L419.92 284.94 L420.08 283.84 L420.25 282.75 L420.42 281.65 L420.6 280.55 L420.78 279.45 L420.95 278.36 L421.13 277.26 L421.31 276.16 L421.49 275.06 L421.67 273.97 L421.84 272.87 L422.01 271.77 L422.18 270.67 L422.35 269.57 L422.52 268.48 L422.68 267.38 L422.85 266.28 L423.01 265.18 L423.18 264.08 L423.36 262.98 L423.53 261.88 L423.72 260.79 L423.9 259.69 L424.1 258.6 L424.3 257.51 L424.52 256.42 L424.74 255.33 L424.96 254.24 L425.2 253.15 L425.44 252.07 L425.69 250.98 L425.95 249.89 L426.22 248.81 L426.5 247.74 L426.8 246.66 L427.11 245.6 L427.43 244.54 L427.77 243.5 L428.14 242.46 L428.56 241.43 L429.01 240.42 L429.48 239.41 L429.96 238.4 L430.43 237.39 L430.89 236.37 L431.34 235.35 L431.77 234.33 L432.19 233.3 L432.61 232.27 L433.04 231.24 L433.48 230.22 L433.93 229.21 L434.4 228.2 L434.89 227.21 L435.39 226.21 L435.9 225.23 L436.43 224.25 L436.97 223.28 L437.52 222.31 L438.09 221.35 L438.66 220.41 L439.25 219.47 L439.85 218.53 L440.47 217.6 L441.1 216.68 L441.74 215.77 L442.39 214.87 L443.06 213.99 L443.73 213.11 L444.42 212.24 L445.13 211.38 L445.85 210.53 L446.58 209.69 L447.32 208.86 L448.07 208.03 L448.83 207.22 L449.59 206.42 L450.37 205.63 L451.15 204.85 L451.95 204.07 L452.76 203.31 L453.58 202.56 L454.41 201.82 L455.25 201.08 L456.09 200.35 L456.93 199.63 L457.78 198.92 L458.64 198.22 L459.51 197.52 L460.39 196.84 L461.28 196.17 L462.16 195.5 L463.06 194.84 L463.96 194.18 L464.86 193.54 L465.78 192.91 L466.7 192.29 L467.64 191.7 L468.59 191.13 L469.55 190.56 L470.52 190.02 L471.5 189.49 L472.49 188.98 L473.48 188.49 L474.49 188.02 L475.5 187.58 L476.53 187.15 L477.57 186.74 L478.61 186.34 L479.65 185.96 L480.7 185.6 L481.75 185.24 L482.81 184.9 L483.87 184.57 L484.94 184.25 L486.01 183.97 L487.09 183.71 L488.17 183.43 L489.26 183.15 L490.35 182.91 L491.45 182.71 L492.55 182.61 L493.66 182.6 L494.83 182.6 L495.99 182.6 L497.1 182.6 L498.1 182.6 L499.04 182.87 L499.96 183.57 L500.8 184.53 L501.5 185.56 L501.99 186.5 L502.38 187.44 L502.71 188.45 L503.01 189.51 L503.28 190.6 L503.52 191.73 L503.74 192.87 L503.95 194.01 L504.16 195.14 L504.37 196.25 L504.59 197.34 L504.82 198.43 L505.04 199.52 L505.25 200.61 L505.43 201.71 L505.58 202.81 L505.69 203.91 L505.78 205.01 L505.86 206.12 L505.93 207.22 L506.01 208.32 L506.08 209.43 L506.14 210.53 L506.21 211.64 L506.26 212.75 L506.32 213.85 L506.37 214.96 L506.42 216.07 L506.46 217.19 L506.49 218.3 L506.53 219.41 L506.55 220.53 L506.57 221.64 L506.59 222.76 L506.6 223.88 L506.6 225 L506.61 226.07 L506.62 227.14 L506.64 228.2 L506.65 229.27 L506.66 230.34 L506.67 231.41 L506.68 232.48 L506.7 233.54 L506.71 234.61 L506.72 235.68 L506.73 236.75 L506.74 237.82 L506.76 238.88 L506.77 239.95 L506.78 241.02 L506.79 242.09 L506.8 243.16 L506.82 244.22 L506.83 245.29 L506.84 246.36 L506.85 247.43 L506.86 248.5 L506.88 249.56 L506.89 250.63 L506.9 251.7 L506.9 250.6 L506.91 249.5 L506.91 248.39 L506.93 247.29 L506.94 246.19 L506.96 245.09 L506.98 243.99 L507 242.88 L507.02 241.78 L507.05 240.68 L507.08 239.58 L507.11 238.48 L507.14 237.38 L507.18 236.28 L507.21 235.18 L507.25 234.08 L507.29 232.98 L507.33 231.88 L507.37 230.78 L507.41 229.68 L507.46 228.58 L507.5 227.48 L507.54 226.38 L507.59 225.28 L507.64 224.18 L507.7 223.08 L507.76 221.98 L507.84 220.88 L507.92 219.78 L508 218.68 L508.09 217.59 L508.18 216.49 L508.27 215.39 L508.36 214.29 L508.45 213.2 L508.56 212.1 L508.67 211 L508.77 209.91 L508.88 208.81 L508.98 207.71 L509.08 206.62 L509.16 205.52 L509.24 204.42 L509.29 203.29 L509.32 202.15 L509.36 201.01 L509.41 199.9 L509.48 198.82 L509.59 197.81 L510.01 196.87 L510.8 196" stroke="#1c6fe6" stroke-width="2.1" stroke-dasharray="10 3.2 2 2.2 2 3"/>
<path d="M201.6 182.2 L202.71 182.23 L203.82 182.26 L204.93 182.29 L206.04 182.32 L207.15 182.36 L208.26 182.39 L209.37 182.42 L210.48 182.46 L211.59 182.5 L212.7 182.53 L213.81 182.57 L214.92 182.61 L216.03 182.65 L217.14 182.69 L218.25 182.73 L219.36 182.77 L220.47 182.81 L221.58 182.86 L222.69 182.9 L223.8 182.94 L224.91 182.99 L226.02 183.03 L227.13 183.08 L228.23 183.13 L229.34 183.17 L230.45 183.22 L231.56 183.27 L232.67 183.32 L233.78 183.37 L234.89 183.42 L236 183.47 L237.11 183.53 L238.22 183.58 L239.33 183.64 L240.44 183.7 L241.54 183.76 L242.65 183.82 L243.76 183.88 L244.87 183.94 L245.98 184 L247.09 184.06 L248.2 184.12 L249.31 184.19 L250.41 184.25 L251.52 184.31 L252.63 184.38 L253.74 184.44 L254.85 184.51 L255.96 184.58 L257.07 184.64 L258.17 184.71 L259.28 184.78 L260.39 184.85 L261.5 184.93 L262.61 185 L263.71 185.07 L264.82 185.15 L265.93 185.22 L267.04 185.3 L268.15 185.37 L269.25 185.45 L270.36 185.53 L271.47 185.6 L272.58 185.68 L273.68 185.76 L274.79 185.84 L275.9 185.92 L277.01 186 L278.11 186.09 L279.22 186.17 L280.33 186.26 L281.44 186.34 L282.54 186.43 L283.65 186.51 L284.76 186.6 L285.86 186.69 L286.97 186.78 L288.08 186.87 L289.18 186.96 L290.29 187.04 L291.4 187.13 L292.51 187.22 L293.61 187.31 L294.72 187.4 L295.83 187.5 L296.93 187.6 L298.04 187.7 L299.14 187.81 L300.25 187.93 L301.35 188.05 L302.45 188.19 L303.55 188.34 L304.65 188.49 L305.75 188.65 L306.85 188.81 L307.94 188.98 L309.04 189.15 L310.14 189.33 L311.24 189.5 L312.33 189.68 L313.43 189.85 L314.53 190.03 L315.63 190.2 L316.72 190.38 L317.82 190.57 L318.91 190.76 L320.01 190.95 L321.1 191.14 L322.19 191.33 L323.29 191.51 L324.39 191.69 L325.48 191.85 L326.58 192 L327.69 192.13 L328.8 192.24 L329.91 192.34 L331.02 192.44 L332.13 192.54 L333.24 192.64 L334.34 192.76 L335.43 192.9 L336.51 193.07 L337.59 193.27 L338.66 193.51 L339.73 193.78 L340.79 194.08 L341.86 194.41 L342.91 194.76 L343.97 195.14 L345.02 195.53 L346.07 195.93 L347.11 196.34 L348.15 196.76 L349.19 197.19 L350.23 197.61 L351.26 198.03 L352.29 198.44 L353.32 198.85 L354.35 199.27 L355.37 199.7 L356.39 200.15 L357.4 200.6 L358.41 201.07 L359.42 201.54 L360.42 202.02 L361.43 202.5 L362.43 202.98 L363.42 203.47 L364.42 203.95 L365.43 204.43 L366.44 204.91 L367.44 205.4 L368.45 205.89 L369.45 206.39 L370.44 206.89 L371.42 207.41 L372.39 207.95 L373.35 208.5 L374.29 209.07 L375.21 209.67 L376.12 210.29 L377.02 210.94 L377.91 211.61 L378.79 212.3 L379.65 213.01 L380.51 213.74 L381.35 214.48 L382.17 215.23 L382.97 215.99 L383.76 216.76 L384.52 217.55 L385.27 218.37 L386 219.21 L386.71 220.06 L387.42 220.93 L388.12 221.79 L388.82 222.66 L389.53 223.52 L390.25 224.37 L390.99 225.21 L391.72 226.05 L392.45 226.9 L393.16 227.76 L393.84 228.63 L394.48 229.52 L395.08 230.44 L395.65 231.37 L396.22 232.32 L396.77 233.29 L397.3 234.26 L397.82 235.25 L398.33 236.25 L398.83 237.25 L399.31 238.27 L399.77 239.29 L400.22 240.31 L400.66 241.34 L401.08 242.37 L401.49 243.4 L401.89 244.43 L402.27 245.46 L402.63 246.5 L402.99 247.55 L403.34 248.6 L403.68 249.65 L404.01 250.71 L404.34 251.78 L404.65 252.85 L404.96 253.92 L405.26 254.99 L405.56 256.07 L405.85 257.14 L406.14 258.22 L406.43 259.3 L406.71 260.37 L406.98 261.45 L407.26 262.52 L407.54 263.6 L407.82 264.68 L408.1 265.75 L408.37 266.83 L408.64 267.91 L408.9 268.99 L409.16 270.08 L409.4 271.16 L409.63 272.25 L409.85 273.34 L410.05 274.43 L410.23 275.52 L410.39 276.61 L410.54 277.71 L410.69 278.81 L410.83 279.91 L410.97 281.01 L411.09 282.11 L411.22 283.21 L411.33 284.32 L411.45 285.43 L411.56 286.53 L411.66 287.64 L411.77 288.75 L411.87 289.86 L411.97 290.96 L412.06 292.07 L412.16 293.18 L412.25 294.29 L412.34 295.39 L412.43 296.5 L412.52 297.61 L412.61 298.71 L412.69 299.82 L412.77 300.93 L412.85 302.04 L412.93 303.14 L413 304.25 L413.06 305.36 L413.13 306.47 L413.18 307.58 L413.24 308.69 L413.29 309.8 L413.34 310.9 L413.38 312.01 L413.43 313.12 L413.47 314.23 L413.51 315.34 L413.55 316.45 L413.59 317.56 L413.63 318.67 L413.67 319.78 L413.7 320.89 L413.74 322 L413.77 323.11 L413.8 324.22 L413.84 325.33 L413.87 326.44 L413.9 327.55 L413.93 328.66 L413.97 329.77 L414 330.88 L414.03 331.99 L414.07 333.1 L414.1 334.21 L414.14 335.32 L414.17 336.43 L414.21 337.54 L414.25 338.65 L414.29 339.76 L414.33 340.87 L414.37 341.98 L414.42 343.09 L414.46 344.2 L414.5 345.31 L414.54 346.42 L414.59 347.53 L414.63 348.64 L414.67 349.75 L414.72 350.86 L414.76 351.97 L414.8 353.08 L414.85 354.19 L414.89 355.3 L414.94 356.41 L414.98 357.51 L415.03 358.62 L415.07 359.73 L415.12 360.84 L415.17 361.95 L415.21 363.06 L415.26 364.17 L415.31 365.28 L415.35 366.39 L415.4 367.5 L415.45 366.39 L415.49 365.28 L415.54 364.17 L415.58 363.07 L415.63 361.96 L415.67 360.85 L415.71 359.74 L415.76 358.63 L415.8 357.52 L415.84 356.41 L415.88 355.31 L415.92 354.2 L415.97 353.09 L416.01 351.98 L416.04 350.87 L416.08 349.76 L416.12 348.65 L416.16 347.55 L416.2 346.44 L416.23 345.33 L416.27 344.22 L416.3 343.11 L416.34 342 L416.37 340.89 L416.41 339.78 L416.44 338.68 L416.47 337.57 L416.5 336.46 L416.52 335.35 L416.55 334.24 L416.57 333.13 L416.59 332.02 L416.62 330.91 L416.64 329.8 L416.66 328.69 L416.68 327.58 L416.7 326.47 L416.72 325.36 L416.74 324.25 L416.76 323.14 L416.79 322.03 L416.81 320.92 L416.83 319.81 L416.86 318.7 L416.89 317.59 L416.91 316.48 L416.94 315.37 L416.97 314.27 L417.01 313.16 L417.04 312.05 L417.08 310.94 L417.12 309.84 L417.17 308.73 L417.21 307.62 L417.27 306.52 L417.34 305.41 L417.42 304.31 L417.51 303.2 L417.61 302.1 L417.72 300.99 L417.84 299.89 L417.96 298.78 L418.08 297.68 L418.22 296.58 L418.35 295.47 L418.49 294.37 L418.62 293.27 L418.76 292.17 L418.89 291.07 L419.03 289.97 L419.16 288.87 L419.31 287.77 L419.45 286.67 L419.61 285.57 L419.76 284.47 L419.92 283.37 L420.08 282.27 L420.25 281.18 L420.42 280.08 L420.59 278.98 L420.76 277.89 L420.93 276.79 L421.1 275.69 L421.27 274.6 L421.44 273.5 L421.61 272.41 L421.78 271.31 L421.95 270.21 L422.11 269.11 L422.28 268.01 L422.44 266.92 L422.61 265.82 L422.78 264.72 L422.95 263.62 L423.12 262.53 L423.3 261.43 L423.49 260.34 L423.68 259.25 L423.88 258.16 L424.09 257.07 L424.3 255.98 L424.52 254.9 L424.75 253.81 L424.99 252.72 L425.24 251.63 L425.49 250.55 L425.76 249.47 L426.03 248.39 L426.32 247.32 L426.62 246.25 L426.93 245.19 L427.26 244.14 L427.61 243.1 L428 242.07 L428.43 241.05 L428.89 240.03 L429.36 239.02 L429.84 238.01 L430.31 237 L430.76 235.99 L431.2 234.97 L431.62 233.94 L432.05 232.92 L432.47 231.89 L432.9 230.87 L433.34 229.85 L433.8 228.84 L434.27 227.84 L434.76 226.85 L435.27 225.86 L435.79 224.88 L436.32 223.9 L436.87 222.93 L437.42 221.97 L437.99 221.02 L438.57 220.08 L439.16 219.14 L439.77 218.21 L440.39 217.28 L441.02 216.37 L441.66 215.46 L442.32 214.57 L442.99 213.69 L443.67 212.82 L444.36 211.95 L445.07 211.1 L445.79 210.25 L446.52 209.41 L447.27 208.58 L448.02 207.76 L448.78 206.96 L449.54 206.16 L450.32 205.37 L451.11 204.59 L451.91 203.83 L452.73 203.07 L453.55 202.32 L454.38 201.58 L455.21 200.85 L456.05 200.13 L456.9 199.41 L457.75 198.7 L458.62 198 L459.49 197.31 L460.36 196.63 L461.25 195.96 L462.14 195.3 L463.03 194.64 L463.93 193.99 L464.84 193.35 L465.76 192.72 L466.68 192.11 L467.62 191.53 L468.57 190.96 L469.53 190.4 L470.5 189.86 L471.49 189.34 L472.48 188.83 L473.47 188.35 L474.48 187.89 L475.5 187.45 L476.52 187.03 L477.56 186.62 L478.6 186.23 L479.64 185.86 L480.69 185.5 L481.74 185.14 L482.8 184.8 L483.87 184.48 L484.93 184.17 L486.01 183.89 L487.08 183.63 L488.16 183.36 L489.25 183.08 L490.34 182.85 L491.44 182.68 L492.54 182.6 L493.65 182.6 L494.79 182.6 L495.91 182.6 L496.98 182.6 L498.09 182.84 L499.2 183.46 L500.02 184.22 L500.41 184.98 L500.71 185.89 L500.96 186.93 L501.18 188.06 L501.35 189.25 L501.5 190.47 L501.61 191.67 L501.69 192.82 L501.75 193.93 L501.82 195.03 L501.88 196.13 L501.93 197.23 L501.99 198.33 L502.04 199.44 L502.09 200.54 L502.13 201.65 L502.17 202.75 L502.21 203.86 L502.25 204.97 L502.28 206.08 L502.31 207.19 L502.33 208.3 L502.35 209.41 L502.37 210.53 L502.38 211.64 L502.39 212.76 L502.4 213.88 L502.4 215 L502.42 216.09 L502.43 217.19 L502.45 218.28 L502.47 219.37 L502.49 220.47 L502.5 221.56 L502.52 222.65 L502.54 223.74 L502.56 224.84 L502.57 225.93 L502.59 227.02 L502.61 228.12 L502.62 229.21 L502.64 230.3 L502.66 231.4 L502.68 232.49 L502.69 233.58 L502.71 234.68 L502.73 235.77 L502.74 236.86 L502.76 237.96 L502.78 239.05 L502.8 240.14 L502.81 241.23 L502.83 242.33 L502.85 243.42 L502.87 244.51 L502.88 245.61 L502.9 246.7 L502.97 245.61 L503.04 244.51 L503.11 243.42 L503.18 242.33 L503.24 241.24 L503.31 240.14 L503.37 239.05 L503.43 237.96 L503.49 236.86 L503.55 235.77 L503.6 234.68 L503.65 233.58 L503.71 232.49 L503.76 231.39 L503.81 230.3 L503.85 229.21 L503.9 228.11 L503.94 227.02 L503.97 225.93 L504.01 224.83 L504.04 223.74 L504.07 222.64 L504.1 221.55 L504.13 220.45 L504.16 219.36 L504.19 218.26 L504.22 217.17 L504.25 216.07 L504.29 214.98 L504.32 213.89 L504.37 212.79 L504.41 211.7 L504.46 210.6 L504.51 209.51 L504.57 208.41 L504.63 207.32 L504.7 206.22 L504.77 205.13 L504.85 204.04 L504.93 202.95 L505.02 201.86 L505.12 200.77 L505.23 199.68 L505.36 198.54 L505.5 197.37 L505.67 196.21 L505.88 195.09 L506.13 194.07 L506.43 193.17 L506.87 192.4 L507.59 191.69 L508.53 191.05 L509.62 190.48 L510.8 190" stroke="#ff8a14" stroke-width="2.2" stroke-dasharray="2.6 10.7" stroke-dashoffset="-4"/>
<path d="M201.6 182.2 L202.71 182.23 L203.82 182.26 L204.93 182.29 L206.04 182.32 L207.15 182.36 L208.26 182.39 L209.37 182.42 L210.48 182.46 L211.59 182.5 L212.7 182.53 L213.81 182.57 L214.92 182.61 L216.03 182.65 L217.14 182.69 L218.25 182.73 L219.36 182.77 L220.47 182.81 L221.57 182.86 L222.68 182.9 L223.79 182.94 L224.9 182.99 L226.01 183.03 L227.12 183.08 L228.23 183.13 L229.34 183.17 L230.45 183.22 L231.56 183.27 L232.67 183.32 L233.78 183.37 L234.89 183.42 L235.99 183.47 L237.1 183.53 L238.21 183.58 L239.32 183.64 L240.43 183.7 L241.54 183.76 L242.65 183.82 L243.76 183.88 L244.86 183.94 L245.97 184 L247.08 184.06 L248.19 184.12 L249.3 184.19 L250.41 184.25 L251.52 184.31 L252.62 184.38 L253.73 184.44 L254.84 184.51 L255.95 184.58 L257.06 184.64 L258.17 184.71 L259.27 184.78 L260.38 184.85 L261.49 184.92 L262.6 185 L263.71 185.07 L264.81 185.14 L265.92 185.22 L267.03 185.29 L268.14 185.37 L269.24 185.45 L270.35 185.52 L271.46 185.6 L272.57 185.68 L273.67 185.76 L274.78 185.84 L275.89 185.92 L277 186 L278.1 186.09 L279.21 186.17 L280.32 186.25 L281.42 186.34 L282.53 186.42 L283.64 186.51 L284.75 186.6 L285.85 186.69 L286.96 186.78 L288.07 186.86 L289.17 186.95 L290.28 187.04 L291.39 187.13 L292.49 187.22 L293.6 187.3 L294.71 187.4 L295.82 187.49 L296.92 187.59 L298.03 187.69 L299.13 187.81 L300.23 187.93 L301.33 188.06 L302.43 188.2 L303.53 188.35 L304.63 188.52 L305.73 188.69 L306.82 188.87 L307.92 189.05 L309.01 189.24 L310.11 189.43 L311.2 189.63 L312.3 189.82 L313.39 190.02 L314.48 190.21 L315.58 190.4 L316.67 190.59 L317.77 190.78 L318.86 190.98 L319.95 191.18 L321.05 191.38 L322.14 191.59 L323.22 191.81 L324.31 192.05 L325.39 192.29 L326.47 192.55 L327.54 192.83 L328.61 193.11 L329.68 193.41 L330.75 193.72 L331.81 194.04 L332.88 194.36 L333.94 194.68 L335.01 195 L336.07 195.32 L337.14 195.64 L338.2 195.96 L339.26 196.28 L340.33 196.6 L341.39 196.93 L342.45 197.26 L343.51 197.59 L344.56 197.94 L345.62 198.29 L346.67 198.65 L347.71 199.02 L348.76 199.39 L349.81 199.76 L350.86 200.15 L351.9 200.54 L352.94 200.94 L353.98 201.35 L355 201.77 L356.02 202.2 L357.03 202.65 L358.03 203.12 L359.02 203.6 L360.01 204.1 L361 204.62 L361.98 205.16 L362.95 205.72 L363.92 206.29 L364.87 206.88 L365.82 207.48 L366.74 208.1 L367.65 208.74 L368.53 209.39 L369.4 210.06 L370.24 210.76 L371.07 211.5 L371.88 212.27 L372.67 213.06 L373.44 213.87 L374.19 214.7 L374.91 215.53 L375.61 216.39 L376.28 217.26 L376.94 218.16 L377.58 219.07 L378.21 219.99 L378.83 220.92 L379.45 221.84 L380.07 222.77 L380.7 223.68 L381.36 224.59 L382.02 225.5 L382.67 226.42 L383.3 227.34 L383.89 228.28 L384.42 229.23 L384.89 230.21 L385.33 231.22 L385.75 232.24 L386.14 233.28 L386.52 234.33 L386.88 235.39 L387.21 236.46 L387.53 237.54 L387.84 238.61 L388.12 239.68 L388.39 240.75 L388.65 241.83 L388.9 242.9 L389.14 243.98 L389.37 245.07 L389.59 246.16 L389.81 247.24 L390.02 248.34 L390.23 249.43 L390.43 250.53 L390.62 251.62 L390.81 252.72 L391 253.82 L391.18 254.92 L391.36 256.02 L391.54 257.11 L391.71 258.21 L391.89 259.31 L392.06 260.4 L392.24 261.5 L392.41 262.6 L392.58 263.69 L392.74 264.79 L392.91 265.89 L393.07 266.99 L393.22 268.09 L393.38 269.19 L393.53 270.29 L393.68 271.39 L393.83 272.49 L393.97 273.59 L394.11 274.69 L394.25 275.8 L394.38 276.9 L394.52 278 L394.64 279.1 L394.77 280.21 L394.89 281.31 L395.02 282.41 L395.15 283.52 L395.27 284.62 L395.39 285.72 L395.51 286.83 L395.63 287.93 L395.74 289.04 L395.85 290.14 L395.96 291.25 L396.05 292.36 L396.14 293.46 L396.23 294.57 L396.3 295.68 L396.37 296.78 L396.43 297.89 L396.49 299 L396.54 300.11 L396.59 301.22 L396.64 302.32 L396.69 303.43 L396.74 304.54 L396.79 305.65 L396.83 306.76 L396.87 307.87 L396.91 308.98 L396.95 310.09 L396.98 311.2 L397.02 312.31 L397.05 313.42 L397.08 314.53 L397.11 315.64 L397.13 316.75 L397.16 317.86 L397.18 318.97 L397.2 320.08 L397.22 321.19 L397.24 322.3 L397.26 323.41 L397.28 324.52 L397.3 325.63 L397.32 326.74 L397.34 327.85 L397.36 328.96 L397.37 330.07 L397.39 331.18 L397.41 332.29 L397.42 333.4 L397.44 334.51 L397.46 335.62 L397.47 336.73 L397.49 337.84 L397.5 338.95 L397.51 340.06 L397.52 341.18 L397.54 342.29 L397.55 343.4 L397.56 344.51 L397.56 345.62 L397.57 346.73 L397.58 347.84 L397.59 348.95 L397.59 350.06 L397.59 351.17 L397.6 352.28 L397.6 353.39 L397.6 354.5 L397.6 353.39 L397.6 352.28 L397.61 351.17 L397.61 350.06 L397.62 348.95 L397.62 347.84 L397.63 346.73 L397.64 345.62 L397.65 344.51 L397.66 343.4 L397.68 342.29 L397.69 341.18 L397.71 340.07 L397.72 338.96 L397.74 337.85 L397.76 336.75 L397.77 335.64 L397.79 334.53 L397.81 333.42 L397.83 332.31 L397.85 331.2 L397.88 330.09 L397.9 328.98 L397.92 327.87 L397.95 326.76 L397.97 325.66 L397.99 324.55 L398.02 323.44 L398.05 322.33 L398.07 321.22 L398.1 320.11 L398.13 319 L398.16 317.89 L398.2 316.78 L398.24 315.68 L398.29 314.57 L398.34 313.46 L398.39 312.35 L398.45 311.24 L398.51 310.13 L398.57 309.03 L398.63 307.92 L398.69 306.81 L398.76 305.7 L398.82 304.6 L398.89 303.49 L398.97 302.38 L399.05 301.28 L399.13 300.17 L399.22 299.06 L399.31 297.96 L399.4 296.85 L399.5 295.75 L399.59 294.64 L399.69 293.54 L399.79 292.43 L399.89 291.33 L399.98 290.22 L400.08 289.11 L400.17 288.01 L400.27 286.9 L400.37 285.8 L400.47 284.69 L400.56 283.59 L400.66 282.48 L400.77 281.38 L400.87 280.27 L400.97 279.17 L401.08 278.06 L401.18 276.96 L401.29 275.86 L401.4 274.75 L401.5 273.65 L401.61 272.54 L401.72 271.44 L401.84 270.34 L401.95 269.23 L402.06 268.13 L402.17 267.03 L402.29 265.92 L402.4 264.82 L402.52 263.71 L402.63 262.61 L402.75 261.51 L402.87 260.4 L402.99 259.3 L403.11 258.2 L403.23 257.09 L403.36 255.99 L403.49 254.89 L403.62 253.79 L403.75 252.69 L403.89 251.58 L404.03 250.48 L404.17 249.39 L404.32 248.29 L404.47 247.19 L404.63 246.09 L404.8 244.99 L404.97 243.9 L405.15 242.8 L405.34 241.71 L405.53 240.62 L405.73 239.52 L405.92 238.43 L406.12 237.34 L406.33 236.25 L406.54 235.16 L406.76 234.07 L406.98 232.99 L407.21 231.9 L407.43 230.81 L407.66 229.73 L407.87 228.64 L408.09 227.55 L408.3 226.46 L408.51 225.37 L408.74 224.28 L408.97 223.19 L409.22 222.12 L409.49 221.04 L409.8 219.98 L410.14 218.93 L410.51 217.88 L410.87 216.82 L411.19 215.76 L411.51 214.7 L411.82 213.64 L412.12 212.57 L412.42 211.5 L412.72 210.43 L413.02 209.36 L413.32 208.29 L413.63 207.23 L413.95 206.17 L414.27 205.11 L414.6 204.04 L414.92 202.98 L415.25 201.91 L415.58 200.85 L415.93 199.8 L416.29 198.75 L416.66 197.7 L417.05 196.67 L417.47 195.65 L417.91 194.64 L418.39 193.63 L418.88 192.63 L419.4 191.65 L419.93 190.67 L420.48 189.71 L421.03 188.73 L421.61 187.75 L422.23 186.82 L422.9 185.95 L423.63 185.17 L424.47 184.41 L425.39 183.73 L426.36 183.22 L427.38 182.83 L428.48 182.52 L429.57 182.4 L430.67 182.55 L431.76 182.88 L432.78 183.27 L433.74 183.81 L434.65 184.51 L435.48 185.27 L436.2 186.07 L436.84 186.95 L437.44 187.9 L438.02 188.87 L438.59 189.85 L439.16 190.79 L439.73 191.75 L440.28 192.71 L440.83 193.68 L441.37 194.64 L441.91 195.61 L442.46 196.58 L443.01 197.54 L443.56 198.51 L444.11 199.47 L444.66 200.44 L445.2 201.41 L445.74 202.38 L446.28 203.35 L446.8 204.33 L447.31 205.31 L447.8 206.3 L448.29 207.3 L448.77 208.3 L449.25 209.3 L449.73 210.31 L450.19 211.32 L450.64 212.34 L451.07 213.36 L451.49 214.39 L451.89 215.42 L452.26 216.46 L452.62 217.5 L452.98 218.55 L453.32 219.61 L453.65 220.67 L453.97 221.74 L454.28 222.8 L454.57 223.88 L454.86 224.95 L455.14 226.03 L455.4 227.1 L455.65 228.18 L455.89 229.26 L456.12 230.35 L456.34 231.43 L456.56 232.52 L456.77 233.61 L456.97 234.7 L457.18 235.8 L457.38 236.89 L457.58 237.98 L457.78 239.07 L457.98 240.16 L458.18 241.25 L458.36 242.35 L458.54 243.44 L458.71 244.54 L458.86 245.64 L459.02 246.73 L459.17 247.83 L459.31 248.93 L459.46 250.03 L459.6 251.13 L459.73 252.24 L459.87 253.34 L460 254.44 L460.12 255.54 L460.25 256.65 L460.37 257.75 L460.49 258.85 L460.6 259.96 L460.72 261.06 L460.83 262.16 L460.94 263.27 L461.05 264.37 L461.15 265.47 L461.26 266.58 L461.37 267.68 L461.47 268.79 L461.58 269.89 L461.68 271 L461.78 272.1 L461.87 273.21 L461.97 274.32 L462.06 275.42 L462.15 276.53 L462.23 277.63 L462.31 278.74 L462.39 279.85 L462.47 280.95 L462.54 282.06 L462.6 283.17 L462.67 284.27 L462.73 285.38 L462.8 286.49 L462.86 287.6 L462.92 288.71 L462.98 289.81 L463.04 290.92 L463.09 292.03 L463.14 293.14 L463.19 294.25 L463.24 295.36 L463.28 296.47 L463.32 297.57 L463.35 298.68 L463.38 299.79 L463.4 300.9 L463.42 302.01 L463.44 303.12 L463.46 304.23 L463.48 305.34 L463.5 306.44 L463.52 307.55 L463.54 308.66 L463.56 309.77 L463.58 310.88 L463.6 311.99 L463.61 313.1 L463.63 314.21 L463.64 315.32 L463.66 316.43 L463.67 317.54 L463.69 318.64 L463.7 319.75 L463.71 320.86 L463.72 321.97 L463.73 323.08 L463.74 324.19 L463.75 325.3 L463.76 326.41 L463.77 327.52 L463.78 328.63 L463.78 329.74 L463.79 330.85 L463.79 331.96 L463.8 333.07 L463.8 334.18 L463.8 335.29 L463.8 336.4 L463.8 335.29 L463.8 334.18 L463.81 333.07 L463.82 331.97 L463.83 330.86 L463.84 329.75 L463.85 328.64 L463.87 327.53 L463.88 326.43 L463.9 325.32 L463.92 324.21 L463.94 323.11 L463.97 322 L463.99 320.89 L464.02 319.79 L464.05 318.68 L464.07 317.57 L464.1 316.47 L464.14 315.36 L464.17 314.26 L464.2 313.15 L464.23 312.04 L464.27 310.94 L464.31 309.83 L464.35 308.73 L464.41 307.62 L464.48 306.52 L464.56 305.41 L464.65 304.31 L464.75 303.21 L464.84 302.1 L464.94 301 L465.04 299.9 L465.13 298.79 L465.23 297.69 L465.32 296.59 L465.41 295.48 L465.5 294.38 L465.6 293.28 L465.7 292.17 L465.8 291.07 L465.9 289.97 L466 288.87 L466.1 287.76 L466.19 286.66 L466.29 285.56 L466.39 284.45 L466.48 283.35 L466.57 282.25 L466.66 281.14 L466.74 280.04 L466.83 278.94 L466.91 277.83 L466.99 276.73 L467.08 275.62 L467.16 274.52 L467.24 273.41 L467.33 272.31 L467.41 271.21 L467.5 270.1 L467.59 269 L467.68 267.9 L467.77 266.79 L467.87 265.69 L467.98 264.59 L468.08 263.49 L468.19 262.39 L468.3 261.28 L468.42 260.18 L468.53 259.08 L468.65 257.98 L468.78 256.88 L468.9 255.78 L469.03 254.68 L469.15 253.58 L469.28 252.48 L469.42 251.38 L469.55 250.28 L469.68 249.18 L469.82 248.08 L469.95 246.98 L470.09 245.89 L470.23 244.79 L470.36 243.69 L470.5 242.59 L470.62 241.48 L470.75 240.38 L470.88 239.27 L471.01 238.16 L471.15 237.06 L471.29 235.96 L471.44 234.86 L471.61 233.77 L471.79 232.68 L471.98 231.6 L472.19 230.53 L472.44 229.47 L472.75 228.41 L473.1 227.36 L473.48 226.31 L473.89 225.28 L474.32 224.24 L474.76 223.22 L475.19 222.19 L475.62 221.18 L476.06 220.16 L476.51 219.15 L476.98 218.14 L477.45 217.13 L477.94 216.14 L478.45 215.15 L478.96 214.16 L479.49 213.19 L480.03 212.23 L480.59 211.28 L481.16 210.34 L481.75 209.4 L482.36 208.47 L482.99 207.55 L483.63 206.64 L484.29 205.74 L484.96 204.86 L485.64 203.99 L486.34 203.13 L487.05 202.29 L487.77 201.45 L488.51 200.62 L489.28 199.8 L490.06 198.99 L490.86 198.22 L491.68 197.47 L492.52 196.77 L493.38 196.12 L494.28 195.47 L495.2 194.84 L496.14 194.23 L497.11 193.65 L498.1 193.12 L499.1 192.62 L500.1 192.19 L501.11 191.81 L502.14 191.45 L503.17 191.11 L504.22 190.78 L505.29 190.47 L506.36 190.19 L507.45 189.94 L508.56 189.72 L509.67 189.54 L510.8 189.4" stroke="#f50f14" stroke-width="2.2"/>
</g>
<rect x="217.3" y="226.8" width="114.4" height="97.9" fill="#fff" stroke="#9a9a9a" stroke-width="1"/>
<path d="M217.8 237.3 H254.2" stroke="#555555" stroke-width="2.3" stroke-dasharray="9.7 5.4 2.4 3.2 2.4 3.5 2.4 3.8 2.4 10" fill="none"/>
<path d="M217.8 256.7 H254.2" stroke="#169816" stroke-width="2.1" stroke-dasharray="14 5 3 4.5" fill="none"/>
<path d="M217.8 276.3 H254.2" stroke="#1c6fe6" stroke-width="2.1" stroke-dasharray="10 3.4 2 2.2 2 2.6" fill="none"/>
<path d="M218 295.4 H254.2" stroke="#ff8a14" stroke-width="2.2" stroke-dasharray="2.4 10.9" fill="none"/>
<path d="M217.8 313.9 H254.2" stroke="#f50f14" stroke-width="2" fill="none"/>
<text x="260" y="242.1" font-family='"Liberation Serif", serif' font-size="14" font-weight="normal" text-anchor="start" fill="#000" letter-spacing="0.04">Step 1</text>
<text x="260" y="261.5" font-family='"Liberation Serif", serif' font-size="14" font-weight="normal" text-anchor="start" fill="#000" letter-spacing="0.04">Step 2</text>
<text x="260" y="281.1" font-family='"Liberation Serif", serif' font-size="14" font-weight="normal" text-anchor="start" fill="#000" letter-spacing="0.04">Step 3</text>
<text x="260" y="300.2" font-family='"Liberation Serif", serif' font-size="14" font-weight="normal" text-anchor="start" fill="#000" letter-spacing="0.04">Step 4</text>
<text x="260" y="318.7" font-family='"Liberation Serif", serif' font-size="14" font-weight="normal" text-anchor="start" fill="#000" letter-spacing="0.04">Final design</text>
<rect x="201.6" y="161.2" width="309.2" height="249.1" fill="none" stroke="#000" stroke-width="1"/>
<path d="M201.6 410.3 v-5.2 M218.78 410.3 v-2.9 M235.96 410.3 v-5.2 M253.13 410.3 v-2.9 M270.31 410.3 v-5.2 M287.49 410.3 v-2.9 M304.67 410.3 v-5.2 M321.84 410.3 v-2.9 M339.02 410.3 v-5.2 M356.2 410.3 v-2.9 M373.38 410.3 v-5.2 M390.56 410.3 v-2.9 M407.73 410.3 v-5.2 M424.91 410.3 v-2.9 M442.09 410.3 v-5.2 M459.27 410.3 v-2.9 M476.44 410.3 v-5.2 M493.62 410.3 v-2.9 M510.8 410.3 v-5.2 M201.6 182.1 h4.8 M201.6 223.48 h4.8 M201.6 264.86 h4.8 M201.6 306.24 h4.8 M201.6 347.62 h4.8 M201.6 389 h4.8 M201.6 202.79 h2.4 M201.6 244.17 h2.4 M201.6 285.55 h2.4 M201.6 326.93 h2.4 M201.6 368.31 h2.4" stroke="#000" stroke-width="1" fill="none"/>
<text x="201.6" y="424" font-family='"Liberation Serif", serif' font-size="11.7" font-weight="bold" text-anchor="middle" fill="#000" >1</text>
<text x="235.96" y="424" font-family='"Liberation Serif", serif' font-size="11.7" font-weight="bold" text-anchor="middle" fill="#000" >2</text>
<text x="270.31" y="424" font-family='"Liberation Serif", serif' font-size="11.7" font-weight="bold" text-anchor="middle" fill="#000" >3</text>
<text x="304.67" y="424" font-family='"Liberation Serif", serif' font-size="11.7" font-weight="bold" text-anchor="middle" fill="#000" >4</text>
<text x="339.02" y="424" font-family='"Liberation Serif", serif' font-size="11.7" font-weight="bold" text-anchor="middle" fill="#000" >5</text>
<text x="373.38" y="424" font-family='"Liberation Serif", serif' font-size="11.7" font-weight="bold" text-anchor="middle" fill="#000" >6</text>
<text x="407.73" y="424" font-family='"Liberation Serif", serif' font-size="11.7" font-weight="bold" text-anchor="middle" fill="#000" >7</text>
<text x="442.09" y="424" font-family='"Liberation Serif", serif' font-size="11.7" font-weight="bold" text-anchor="middle" fill="#000" >8</text>
<text x="476.44" y="424" font-family='"Liberation Serif", serif' font-size="11.7" font-weight="bold" text-anchor="middle" fill="#000" >9</text>
<text x="510.8" y="424" font-family='"Liberation Serif", serif' font-size="11.7" font-weight="bold" text-anchor="middle" fill="#000" >10</text>
<text x="195.9" y="184.7" font-family='"Liberation Serif", serif' font-size="11.7" font-weight="bold" text-anchor="end" fill="#000" >0</text>
<text x="195.9" y="226.08" font-family='"Liberation Serif", serif' font-size="11.7" font-weight="bold" text-anchor="end" fill="#000" >-10</text>
<text x="195.9" y="267.46" font-family='"Liberation Serif", serif' font-size="11.7" font-weight="bold" text-anchor="end" fill="#000" >-20</text>
<text x="195.9" y="308.84" font-family='"Liberation Serif", serif' font-size="11.7" font-weight="bold" text-anchor="end" fill="#000" >-30</text>
<text x="195.9" y="350.22" font-family='"Liberation Serif", serif' font-size="11.7" font-weight="bold" text-anchor="end" fill="#000" >-40</text>
<text x="195.9" y="391.6" font-family='"Liberation Serif", serif' font-size="11.7" font-weight="bold" text-anchor="end" fill="#000" >-50</text>
<text x="355.9" y="447.3" font-family='"Liberation Serif", serif' font-size="14.4" font-weight="bold" text-anchor="middle" fill="#000" letter-spacing="-0.16">Frequency (GHz)</text>
<text transform="translate(174.0 284.8) rotate(-90)" font-family='"Liberation Serif", serif' font-size="14.4" font-weight="bold" text-anchor="middle" letter-spacing="0.085" fill="#000">Transmission Coefficient (S<tspan font-size="7.5" dy="1.2">21</tspan><tspan dy="-1.2">)</tspan></text>
<text x="229.9" y="387.8" font-family='"Liberation Serif", serif' font-size="15" font-weight="bold" text-anchor="middle" fill="#000" letter-spacing="0.5">(b)</text>
</svg>
</body>
</html>
